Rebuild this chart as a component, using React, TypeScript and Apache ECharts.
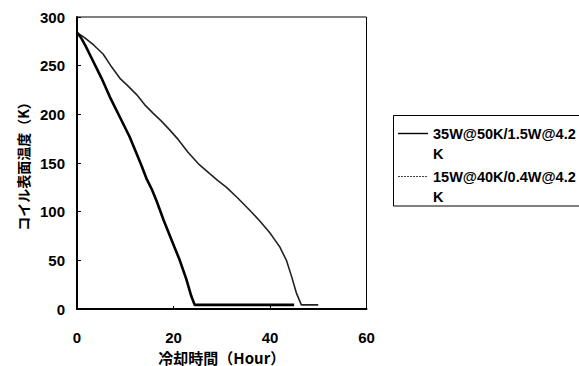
import React, { useEffect, useRef } from "react";
import * as echarts from "echarts";

// Cooling curves: coil surface temperature vs cooling time
const seriesNames = ["35W@50K/1.5W@4.2K", "15W@40K/0.4W@4.2K"];
const legendLines = [
  ["35W@50K/1.5W@4.2", "K"],
  ["15W@40K/0.4W@4.2", "K"],
];

// [hours, kelvin]
const cooling35W: [number, number][] = [
  [0, 284], [0.8, 279], [1.8, 270], [2.6, 262], [4, 248], [5.1, 237],
  [6.8, 218], [8.9, 197], [10.9, 177], [12.4, 159], [13.4, 147],
  [14.4, 134], [15.5, 123], [16.5, 111], [17.9, 92], [19.6, 71],
  [21.3, 50], [22.7, 30], [23.7, 13], [24.4, 4.2], [30, 4.2], [35, 4.2],
  [40, 4.2], [45, 4.2],
];

const cooling15W: [number, number][] = [
  [0, 284], [1.5, 279], [3.5, 271], [5.4, 262], [7, 250], [8.9, 237],
  [10.6, 229], [12.4, 220], [14, 210], [15.8, 201], [17.5, 193],
  [19.2, 184], [21, 174], [23, 161], [25.4, 148], [27.5, 139],
  [29.2, 132], [31, 125], [33.3, 114], [35.5, 103], [37.8, 91],
  [40, 78], [41, 71], [42, 64], [43.4, 50], [44.5, 33], [45.5, 16],
  [46.5, 4.2], [48, 4.2], [50, 4.2],
];

const xTicks = [0, 20, 40, 60];
const yTicks = [0, 50, 100, 150, 200, 250, 300];

const xTitle = "冷却時間（Hour）";
const yTitle = "コイル表面温度（K）";

const FONT = "'Liberation Sans', Arial, 'Noto Sans CJK JP', sans-serif";
const CJK_FONT = "'Noto Sans CJK JP', 'Liberation Sans', sans-serif";

export default function App() {
  const ref = useRef<HTMLDivElement>(null);

  useEffect(() => {
    if (!ref.current) return;
    const chart = echarts.init(ref.current, undefined, { renderer: "svg" });

    const lineStyles = [
      { color: "#000", width: 2.6 },
      { color: "#222", width: 1.6 },
    ];

    // legend box drawn as graphic so the wrapped labels sit like the original
    const legendX = 393.5;
    const legendY = 115.5;
    const legendElems: any[] = [
      {
        type: "rect",
        shape: { x: legendX, y: legendY, width: 220, height: 90.5 },
        style: { fill: "#fff", stroke: "#000", lineWidth: 1 },
      },
    ];
    legendLines.forEach((lines, i) => {
      const rowY = 133.5 + i * 43;
      legendElems.push({
        type: "line",
        shape: { x1: 398, y1: rowY, x2: 428, y2: rowY },
        style: {
          stroke: i === 0 ? "#000" : "#444",
          lineWidth: i === 0 ? 1.4 : 1.2,
          lineDash: i === 0 ? null : [2, 1],
        },
      });
      lines.forEach((t, j) => {
        legendElems.push({
          type: "text",
          x: 433,
          y: rowY + j * 20,
          style: {
            text: t,
            font: `bold 14.5px ${FONT}`,
            fill: "#000",
            verticalAlign: "middle",
          },
        });
      });
    });

    chart.setOption({
      animation: false,
      backgroundColor: "#fff",
      grid: {
        left: 77,
        top: 17,
        right: 212.5,
        bottom: 57,
        outerBoundsMode: "none",
        containLabel: false,
        show: true,
        borderColor: "#000",
        borderWidth: 1,
        backgroundColor: "transparent",
      },
      xAxis: {
        type: "value",
        min: xTicks[0],
        max: xTicks[xTicks.length - 1],
        interval: 20,
        name: xTitle,
        nameLocation: "middle",
        nameGap: 36,
        nameTextStyle: {
          fontFamily: CJK_FONT,
          fontSize: 15,
          lineHeight: 16,
          fontWeight: "bold",
          color: "#000",
        },
        axisLine: { show: true, onZero: false, lineStyle: { color: "#000", width: 2 } },
        axisTick: { show: true, inside: true, length: 3, lineStyle: { color: "#000" } },
        axisLabel: { margin: 21, fontFamily: FONT, fontSize: 15, fontWeight: "bold", color: "#000" },
        splitLine: { show: false },
      },
      yAxis: {
        type: "value",
        min: yTicks[0],
        max: yTicks[yTicks.length - 1],
        interval: 50,
        name: yTitle,
        nameLocation: "middle",
        nameGap: 47,
        nameTextStyle: { fontFamily: CJK_FONT, fontSize: 14, fontWeight: "bold", color: "#000" },
        axisLine: { show: true, lineStyle: { color: "#000", width: 2 } },
        axisTick: { show: true, inside: true, length: 4, lineStyle: { color: "#000" } },
        axisLabel: { margin: 12, fontFamily: FONT, fontSize: 15, fontWeight: "bold", color: "#000" },
        splitLine: { show: false },
      },
      series: [cooling35W, cooling15W].map((data, i) => ({
        name: seriesNames[i],
        type: "line",
        data,
        symbol: "none",
        smooth: false,
        lineStyle: lineStyles[i],
        itemStyle: { color: lineStyles[i].color },
        z: 3 - i,
      })),
      graphic: legendElems,
    });

    return () => chart.dispose();
  }, []);

  return (
    <div
      ref={ref}
      style={{ position: "fixed", left: 0, top: 0, width: 579, height: 366 }}
    />
  );
}
